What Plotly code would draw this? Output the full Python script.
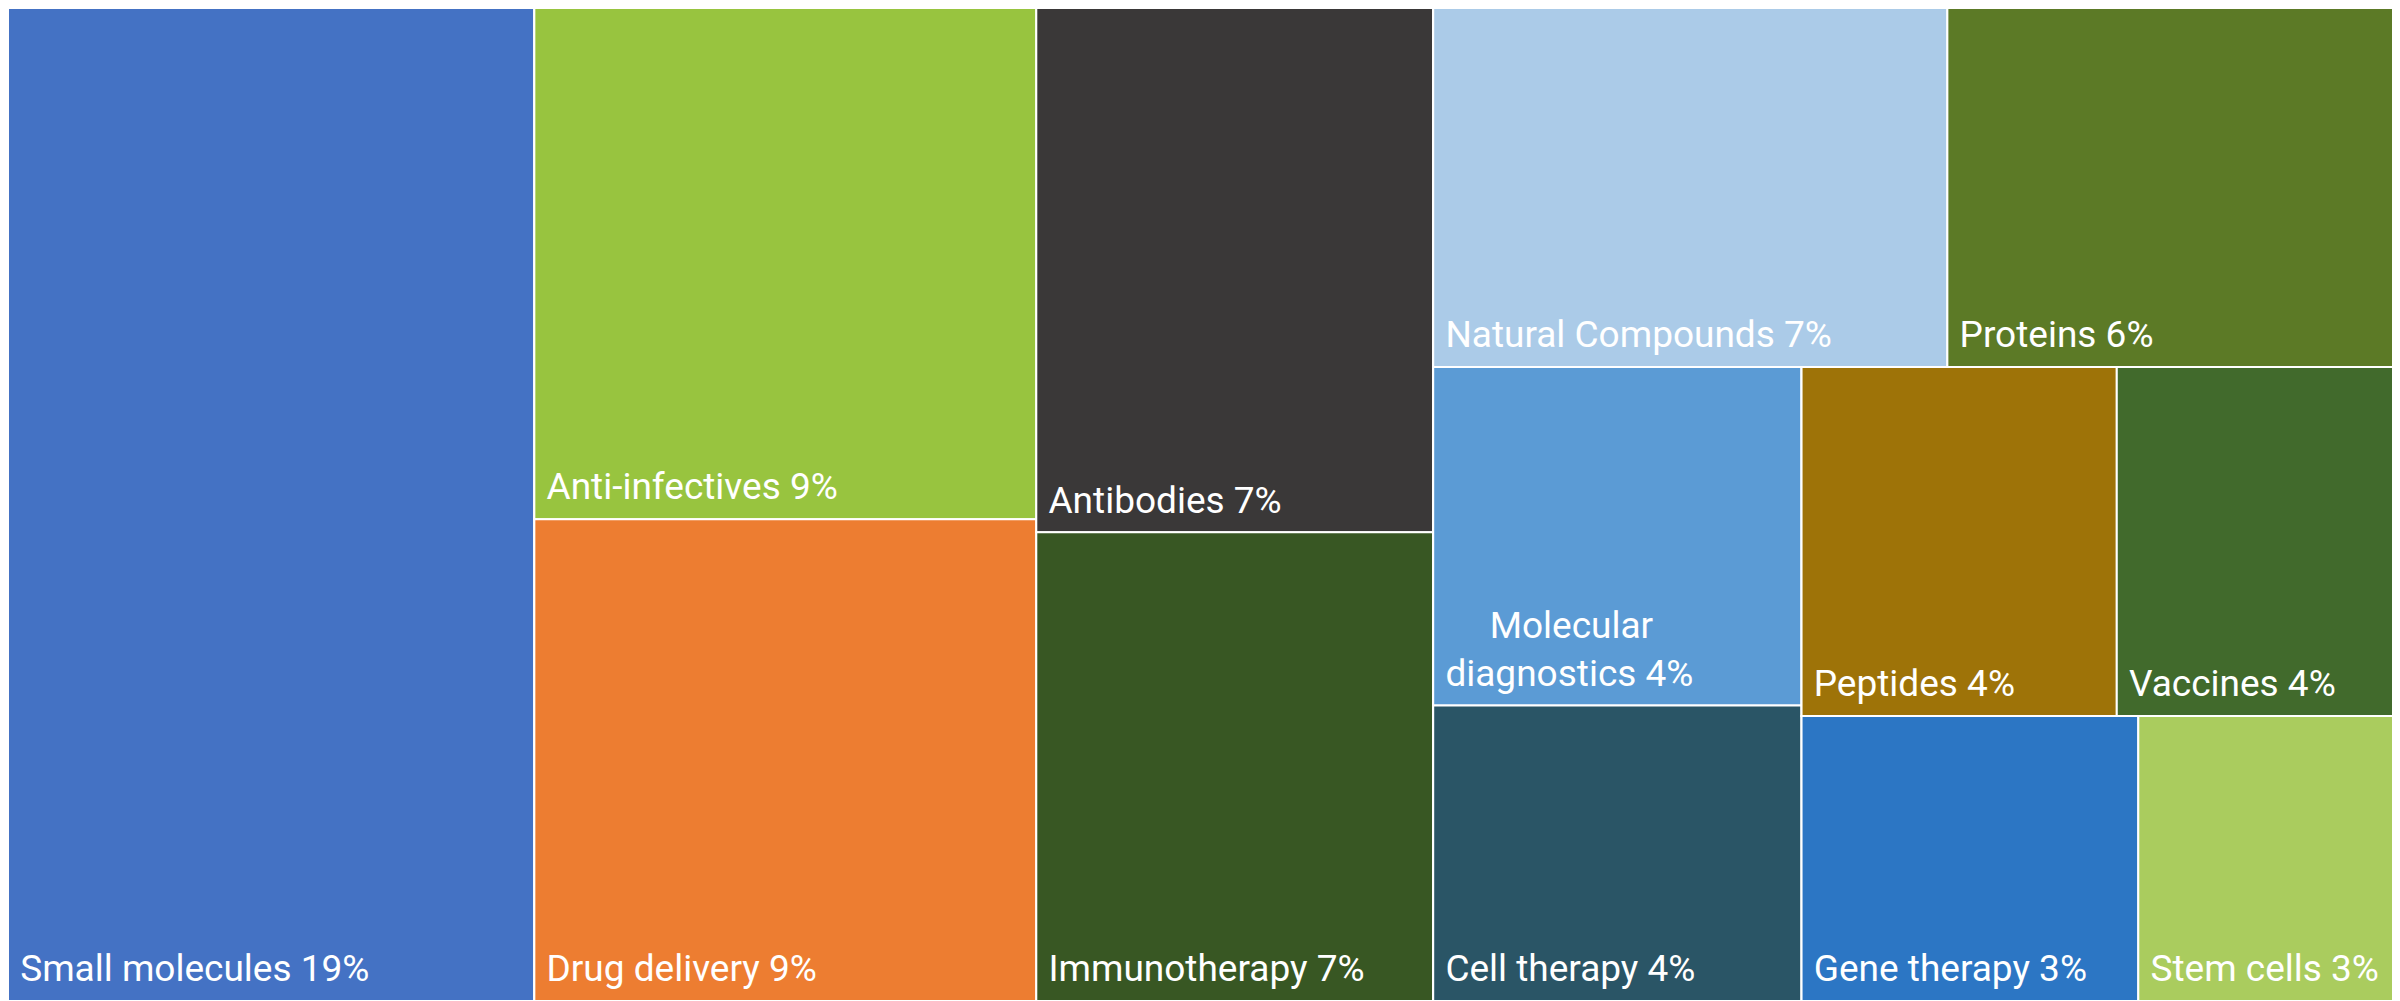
import plotly.graph_objects as go

# Leaf tiles (in drawing order inside each group)
categories = ["Small molecules", "Anti-infectives", "Drug delivery", "Antibodies",
              "Immunotherapy", "Natural Compounds", "Proteins", "Molecular diagnostics",
              "Cell therapy", "Peptides", "Vaccines", "Gene therapy", "Stem cells"]
share_labels = ["19%", "9%", "9%", "7%", "7%", "7%", "6%", "4%", "4%", "4%", "4%", "3%", "3%"]
# tile sizes (relative area)
sizes = [22.0, 10.80, 10.18, 8.76, 7.83, 7.77, 6.84, 5.25, 4.58, 4.63, 4.16, 4.04, 3.14]
leaf_parents = ["root", "G2", "G2", "G3", "G3", "G4A", "G4A", "G4B1", "G4B1",
                "G4B2a", "G4B2a", "G4B2b", "G4B2b"]
leaf_colors = ["#4472C4", "#98C43F", "#ED7D31", "#3A3838", "#385723", "#ABCBE8",
               "#5C7A26", "#5B9BD5", "#2A5566", "#9E7308", "#416A2C", "#2C76C4", "#AACC5E"]

# invisible layout groups
group_ids = ["root", "G2", "G3", "G4", "G4A", "G4B", "G4B1", "G4B2", "G4B2a", "G4B2b"]
group_parents = ["", "root", "root", "root", "G4", "G4", "G4B", "G4B", "G4B2", "G4B2"]

NB = "\u00a0"
# spacer appended to lift the label a little off the tile's bottom edge
LIFT = "<sub><span style='font-size:37px;color:rgba(0,0,0,0)'>.</span></sub>"


def make_label(cat, pct):
    if cat == "Molecular diagnostics":
        return NB * 5 + "\u2009Molecular<br>" + NB + "diagnostics " + pct + LIFT
    return NB + cat + " " + pct + LIFT


ids = categories + group_ids
parents = leaf_parents + group_parents
values = sizes + [0] * len(group_ids)
texts = [make_label(c, p) for c, p in zip(categories, share_labels)] + [""] * len(group_ids)
colors = leaf_colors + ["#FFFFFF"] * len(group_ids)

fig = go.Figure(go.Treemap(
    ids=ids,
    labels=ids,
    parents=parents,
    values=values,
    branchvalues="remainder",
    sort=False,
    text=texts,
    texttemplate="%{text}",
    textposition="bottom left",
    textfont=dict(family="Roboto", size=37, color="white"),
    marker=dict(colors=colors, line=dict(color="white", width=2),
                pad=dict(t=0, l=0, r=0, b=0), depthfade=False),
    tiling=dict(packing="slice-dice", pad=0),
    pathbar=dict(visible=False),
    hoverinfo="skip",
))

fig.update_layout(
    width=2392, height=993,
    margin=dict(l=0, r=0, t=0, b=0),
    paper_bgcolor="white",
    uniformtext=dict(minsize=37, mode="show"),
)

fig.write_html("out.html")
